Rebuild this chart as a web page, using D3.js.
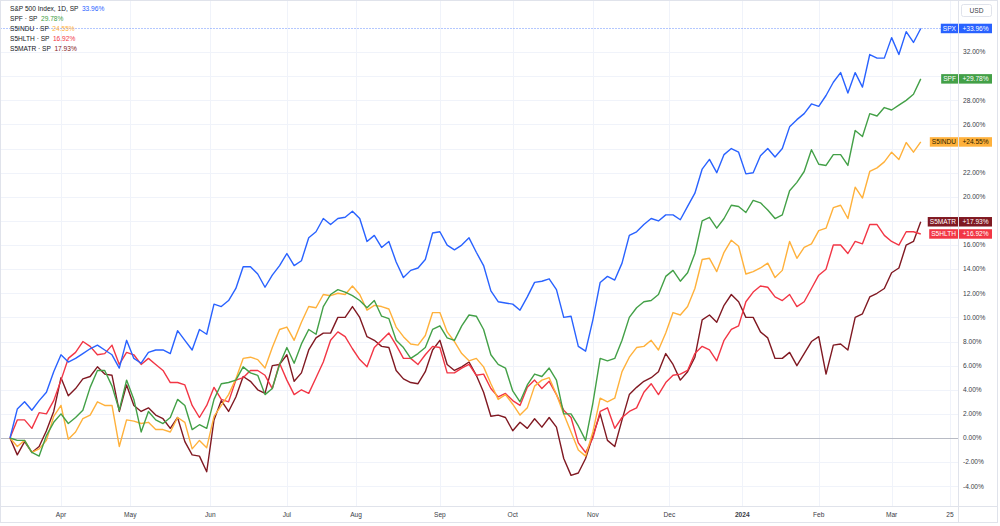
<!DOCTYPE html>
<html>
<head>
<meta charset="utf-8">
<script src="https://cdn.jsdelivr.net/npm/d3@7"></script>
<style>
body { margin: 0; background: #fff; }
svg { font-family: "Liberation Sans", Arial, sans-serif; display: block; }
</style>
</head>
<body>
<script>
// Size of the chart
var width = 1000;
var height = 526;
var plotRight = 958;
var plotBottom = 506;

// Percent change since start, one value every 2nd trading session (mid-Mar 2023 .. Mar 2024)
var spxVals = [0, 2.4, 3.0, 2.3, 3.1, 3.8, 5.5, 6.9, 6.3, 6.6,
    7.0, 7.4, 7.7, 7.3, 6.9, 5.8, 8.1, 6.6, 6.2, 7.1,
    7.3, 7.3, 7.0, 8.9, 8.1, 7.3, 9.0, 8.6, 11.1, 10.9,
    11.4, 12.4, 14.2, 14.2, 13.6, 12.5, 13.5, 14.3, 15.3, 14.3,
    14.7, 16.6, 17.1, 18.2, 17.7, 18.2, 18.3, 18.8, 18.2, 16.3,
    16.8, 15.8, 16.3, 14.6, 13.3, 13.9, 14.1, 14.8, 17.0, 17.1,
    16.0, 15.6, 16.0, 16.6, 15.4, 14.3, 12.2, 11.3, 11.2, 11.1,
    10.6, 11.7, 12.9, 13.0, 13.2, 12.3, 10.0, 10.1, 7.6, 7.2,
    9.8, 12.9, 13.4, 13.1, 14.5, 16.8, 17.1, 17.7, 18.2, 18.0,
    18.5, 18.5, 18.1, 19.2, 20.3, 22.3, 23.1, 22.0, 23.5, 24.0,
    23.7, 21.9, 22.0, 23.4, 24.0, 23.3, 24.0, 25.8, 26.4, 26.9,
    27.7, 27.5, 28.4, 29.5, 30.3, 28.6, 30.3, 29.1, 31.8, 31.5,
    31.5, 33.2, 31.8, 33.7, 32.8, 33.96];
var spfVals = [0, -0.2, -0.2, -1.2, -1.5, 0.2, 1.3, 2.0, 1.2, 1.7,
    2.3, 4.2, 5.6, 5.6, 4.3, 2.3, 4.8, 3.2, 0.5, 2.2,
    1.5, 1.2, 1.7, 3.2, 2.7, 0.7, 1.1, 0.8, 3.2, 4.5,
    4.6, 4.8, 5.9, 5.4, 5.2, 3.6, 4.1, 6.1, 7.5, 6.2,
    7.8, 9.0, 8.6, 10.9, 11.9, 12.3, 12.1, 11.8, 11.4, 10.8,
    11.4, 10.1, 9.9, 8.1, 7.5, 6.6, 7.0, 7.5, 9.0, 9.3,
    8.3, 8.1, 9.3, 10.2, 10.1, 9.0, 6.9, 6.1, 5.8, 3.9,
    3.0, 4.4, 5.3, 5.1, 5.8, 4.8, 2.0, 2.0, 1.0, -0.2,
    2.9, 6.6, 6.4, 6.6, 8.1, 10.0, 10.8, 11.3, 11.4, 11.9,
    13.4, 13.9, 13.0, 13.7, 15.3, 18.0, 18.3, 17.4, 18.2, 19.3,
    19.2, 18.7, 19.7, 19.5, 18.9, 18.2, 18.5, 20.5, 21.2, 22.1,
    23.9, 22.7, 22.6, 23.5, 23.5, 22.6, 25.5, 25.0, 26.9, 26.7,
    27.4, 27.2, 27.6, 28.0, 28.5, 29.78];
var sinduVals = [0, -0.7, -0.2, -1.2, -0.9, -0.2, 1.8, 2.7, -0.1, 0.5,
    1.6, 1.9, 3.0, 2.7, 2.7, -0.7, 1.5, 1.4, 1.2, 1.3,
    0.7, 0.7, 0.5, 1.7, 1.3, -0.9, -0.2, -0.8, 1.8, 2.7,
    3.6, 4.9, 6.6, 6.7, 6.5, 5.8, 7.5, 9.0, 9.2, 8.1,
    9.6, 10.9, 10.8, 11.9, 11.8, 12.0, 11.9, 12.6, 11.9, 10.6,
    11.0, 10.9, 10.7, 9.2, 8.4, 7.8, 7.7, 8.5, 10.4, 10.4,
    8.8, 8.0, 7.0, 6.4, 6.6, 5.9, 4.5, 3.2, 3.6, 2.8,
    1.9, 2.5, 4.3, 4.8, 5.0, 3.6, 2.0, 0.5, -1.0, -1.5,
    0.5, 3.3, 3.0, 3.3, 5.5, 6.7, 7.5, 7.6, 8.1, 7.3,
    8.7, 10.4, 10.2, 10.9, 12.4, 14.8, 14.9, 13.8, 15.4, 16.4,
    15.9, 13.6, 13.8, 14.1, 14.5, 13.3, 13.9, 16.3, 14.9, 15.8,
    16.1, 17.2, 17.4, 19.1, 19.3, 18.2, 20.8, 19.9, 22.1, 22.4,
    22.9, 23.7, 23.1, 24.5, 23.7, 24.55];
var shlthVals = [0, 1.5, 1.5, 0.8, 2.1, 2.0, 3.1, 4.8, 6.6, 7.1,
    8.0, 7.6, 6.9, 7.0, 7.7, 6.1, 7.1, 6.9, 6.1, 6.6,
    6.1, 5.6, 4.6, 4.6, 4.4, 2.7, 1.7, 2.7, 4.2, 3.2,
    3.0, 4.8, 5.0, 5.6, 5.6, 5.2, 4.1, 6.2, 4.8, 3.6,
    4.0, 3.7, 5.0, 6.3, 8.1, 8.8, 8.4, 7.4, 6.5, 5.9,
    7.5, 8.1, 8.7, 7.7, 6.6, 6.6, 6.1, 6.9, 7.6, 7.5,
    5.4, 5.4, 5.8, 6.1, 5.2, 5.3, 4.1, 3.4, 3.7, 3.1,
    2.7, 4.2, 4.8, 4.1, 4.7, 3.6, 2.3, 1.7, -0.4, -1.2,
    0.0, 2.2, 2.5, 0.8, 1.7, 2.2, 2.5, 3.8, 4.5, 3.6,
    4.6, 5.2, 5.3, 5.6, 7.0, 7.6, 7.3, 6.4, 8.1, 9.0,
    9.3, 11.3, 12.1, 12.6, 12.5, 11.7, 11.4, 11.9, 10.9, 11.3,
    12.4, 13.5, 14.0, 16.0, 16.0, 15.3, 16.3, 16.1, 17.7, 17.7,
    16.8, 16.3, 16.0, 17.1, 17.1, 16.92];
var smatrVals = [0, -1.4, -0.3, -1.2, -0.7, 0.6, 2.2, 5.0, 3.5, 4.1,
    4.9, 5.1, 5.9, 5.3, 5.2, 2.2, 4.4, 2.7, 2.2, 2.5,
    1.9, 1.6, 0.8, 1.7, -0.3, -1.4, -1.5, -2.8, 1.5, 3.1,
    2.2, 3.4, 5.1, 4.7, 4.0, 3.7, 6.0, 6.1, 6.9, 4.7,
    5.4, 7.3, 8.3, 8.7, 8.7, 10.0, 10.0, 10.9, 10.0, 8.4,
    8.1, 7.6, 7.5, 5.6, 4.9, 4.6, 4.5, 5.5, 7.3, 8.1,
    6.1, 5.6, 5.9, 6.3, 5.2, 3.8, 1.8, 1.9, 1.7, 0.6,
    1.3, 0.8, 1.6, 0.9, 1.7, 0.9, -1.7, -3.1, -2.9, -1.7,
    0.2, 2.0, -0.2, -0.7, 1.5, 3.6, 4.2, 4.7, 5.0, 5.5,
    7.0, 6.1, 4.8, 5.5, 6.7, 9.8, 10.2, 9.6, 11.0, 11.9,
    11.3, 10.0, 10.0, 8.8, 8.3, 6.6, 6.6, 7.1, 6.0, 7.0,
    8.0, 8.4, 5.3, 7.7, 7.8, 7.3, 10.0, 10.3, 11.7, 12.0,
    12.4, 13.7, 14.1, 16.0, 16.3, 17.93];

var tagNames = ["SPX", "SPF", "S5INDU", "S5HLTH", "S5MATR"];
var legendNames = ["S&P 500 Index, 1D, SP", "SPF \u00b7 SP", "S5INDU \u00b7 SP", "S5HLTH \u00b7 SP", "S5MATR \u00b7 SP"];
var lineColors = ["#2962ff", "#43a047", "#ffb13b", "#f23645", "#801922"];
var tagTextColors = ["#fff", "#fff", "#2a1e00", "#fff", "#fff"];

// x axis: session index of the first session of each month
var monthLabels = ["Apr", "May", "Jun", "Jul", "Aug", "Sep", "Oct", "Nov", "Dec", "2024", "Feb", "Mar", "25"];
var monthBars = [14, 33, 55, 76, 95, 118, 138, 160, 181, 201, 222, 242, 258];
var yTicks = [-4, -2, 0, 2, 4, 6, 8, 10, 12, 14, 16, 18, 20, 22, 24, 26, 28, 30, 32];

var allSeries = [spxVals, spfVals, sinduVals, shlthVals, smatrVals];

var x = d3.scaleLinear().domain([0, 258]).range([10, 949.9]);
var y = d3.scaleLinear().domain([0, 32]).range([438, 52.1]);

var svg = d3.select("body").append("svg")
    .attr("width", width)
    .attr("height", height);

// grid
svg.selectAll("line.hgrid")
    .data(yTicks)
    .enter().append("line")
    .attr("x1", 0).attr("x2", plotRight)
    .attr("y1", function(d) { return Math.round(y(d)) + 0.5; })
    .attr("y2", function(d) { return Math.round(y(d)) + 0.5; })
    .style("stroke", "#f0f3fa");

svg.selectAll("line.vgrid")
    .data(monthBars)
    .enter().append("line")
    .attr("x1", function(d) { return Math.round(x(d)) + 0.5; })
    .attr("x2", function(d) { return Math.round(x(d)) + 0.5; })
    .attr("y1", 0).attr("y2", plotBottom)
    .style("stroke", "#f0f3fa");

// zero line
svg.append("line")
    .attr("x1", 0).attr("x2", plotRight)
    .attr("y1", Math.round(y(0)) + 0.5).attr("y2", Math.round(y(0)) + 0.5)
    .style("stroke", "#b8bbc4");

// last value of main series
var lastSpx = spxVals[spxVals.length - 1];
svg.append("line")
    .attr("x1", 0).attr("x2", plotRight)
    .attr("y1", Math.round(y(lastSpx)) + 0.5).attr("y2", Math.round(y(lastSpx)) + 0.5)
    .style("stroke", "#2962ff")
    .style("stroke-opacity", 0.35)
    .style("stroke-dasharray", "2,1");

// series lines
var line = d3.line()
    .x(function(d, i) { return x(i * 2); })
    .y(function(d) { return y(d); });

for (var s = allSeries.length - 1; s >= 0; s--) {
    svg.append("path")
        .datum(allSeries[s])
        .attr("d", line)
        .style("fill", "none")
        .style("stroke", lineColors[s])
        .style("stroke-width", 1.4)
        .style("stroke-linejoin", "round");
}

// axis borders
svg.append("line")
    .attr("x1", plotRight + 0.5).attr("x2", plotRight + 0.5)
    .attr("y1", 0).attr("y2", 522)
    .style("stroke", "#e0e3eb");
svg.append("line")
    .attr("x1", 0).attr("x2", 997)
    .attr("y1", plotBottom + 0.5).attr("y2", plotBottom + 0.5)
    .style("stroke", "#e0e3eb");
svg.append("rect")
    .attr("x", 0.5).attr("y", 0.5)
    .attr("width", 997).attr("height", 522)
    .style("fill", "none")
    .style("stroke", "#e0e3eb");

// price tags on the right, spread apart where they would overlap
var tagH = 9.5;
var tags = allSeries.map(function(vals, i) {
    var v = vals[vals.length - 1];
    return { i: i, v: v, cy: y(v) };
});
tags.sort(function(a, b) { return a.cy - b.cy; });
for (var t = 1; t < tags.length; t++) {
    var gap = tags[t].cy - tags[t - 1].cy;
    if (gap < tagH + 0.5) {
        var shift = (tagH + 0.5 - gap) / 2;
        tags[t - 1].cy -= shift;
        tags[t].cy += shift;
    }
}

// right axis labels (the ones hidden behind a price tag are left out)
var visibleTicks = yTicks.filter(function(d) {
    return tags.every(function(tg) { return Math.abs(y(d) - tg.cy) > 7; });
});
svg.selectAll("text.ytick")
    .data(visibleTicks)
    .enter().append("text")
    .attr("x", 963)
    .attr("y", function(d) { return y(d); })
    .attr("dy", "0.35em")
    .style("font-size", "6.6px")
    .style("fill", "#3a3d47")
    .text(function(d) { return d.toFixed(2) + "%"; });

// bottom axis labels
svg.selectAll("text.xtick")
    .data(monthBars)
    .enter().append("text")
    .attr("x", function(d) { return x(d); })
    .attr("y", 515)
    .attr("dy", "0.35em")
    .attr("text-anchor", "middle")
    .style("font-size", "6.6px")
    .style("font-weight", function(d, i) { return monthLabels[i] == "2024" ? "bold" : "normal"; })
    .style("fill", "#3a3d47")
    .text(function(d, i) { return monthLabels[i]; });

// USD box
svg.append("rect")
    .attr("x", 961.5).attr("y", 4.5)
    .attr("width", 30).attr("height", 12).attr("rx", 2)
    .style("fill", "#fff")
    .style("stroke", "#e0e3eb");
svg.append("text")
    .attr("x", 976.5).attr("y", 10.5).attr("dy", "0.35em")
    .attr("text-anchor", "middle")
    .style("font-size", "6.6px")
    .style("fill", "#3a3d47")
    .text("USD");

var tagG = svg.selectAll("g.tag")
    .data(tags)
    .enter().append("g")
    .attr("class", "tag");

tagG.each(function(d) {
    var g = d3.select(this);
    var nameText = g.append("text")
        .attr("y", d.cy).attr("dy", "0.35em")
        .attr("text-anchor", "end")
        .attr("x", 956)
        .style("font-size", "6.6px")
        .style("fill", tagTextColors[d.i])
        .text(tagNames[d.i]);
    var w = nameText.node().getComputedTextLength();
    g.insert("rect", "text")
        .attr("x", 958 - w - 4).attr("y", d.cy - tagH / 2)
        .attr("width", w + 4).attr("height", tagH)
        .style("fill", lineColors[d.i]);
    g.append("rect")
        .attr("x", 959).attr("y", d.cy - tagH / 2)
        .attr("width", 33).attr("height", tagH)
        .style("fill", lineColors[d.i]);
    g.append("text")
        .attr("x", 975.5).attr("y", d.cy).attr("dy", "0.35em")
        .attr("text-anchor", "middle")
        .style("font-size", "6.6px")
        .style("fill", tagTextColors[d.i])
        .text("+" + d.v.toFixed(2) + "%");
});

// legend, top left
var legend = svg.selectAll("g.legend")
    .data(legendNames)
    .enter().append("g")
    .attr("class", "legend");

legend.each(function(d, i) {
    var g = d3.select(this);
    var label = g.append("text")
        .attr("x", 10).attr("y", 8.5 + i * 10).attr("dy", "0.35em")
        .style("font-size", "6.6px")
        .style("fill", "#131722")
        .text(d);
    var w = label.node().getComputedTextLength();
    var vals = allSeries[i];
    g.append("text")
        .attr("x", 10 + w + 3.5).attr("y", 8.5 + i * 10).attr("dy", "0.35em")
        .style("font-size", "6.6px")
        .style("fill", lineColors[i])
        .text(vals[vals.length - 1].toFixed(2) + "%");
});
</script>
</body>
</html>
